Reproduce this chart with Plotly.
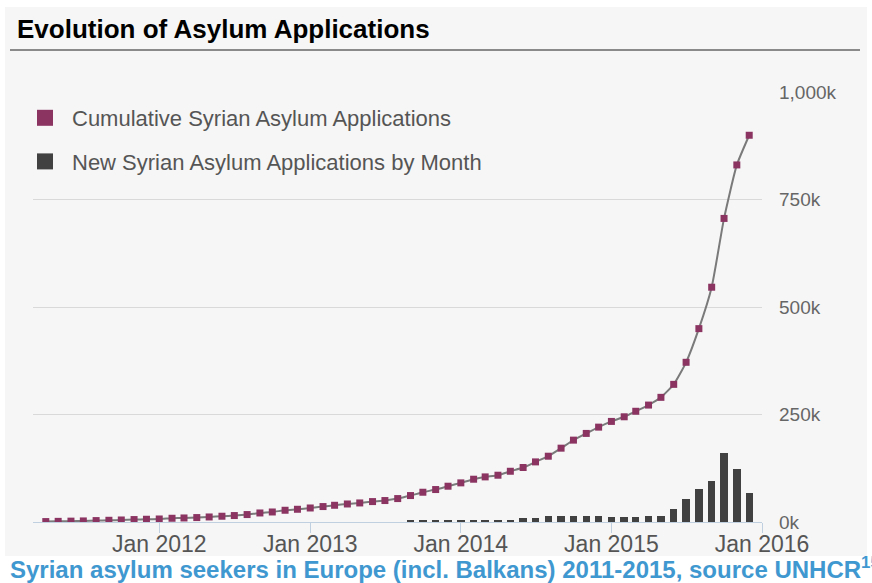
import plotly.graph_objects as go

# ---- data (thousands of applications) ----
cum_months = [
    "2011-04-01", "2011-05-01", "2011-06-01", "2011-07-01", "2011-08-01", "2011-09-01",
    "2011-10-01", "2011-11-01", "2011-12-01",
    "2012-01-01", "2012-02-01", "2012-03-01", "2012-04-01", "2012-05-01", "2012-06-01",
    "2012-07-01", "2012-08-01", "2012-09-01", "2012-10-01", "2012-11-01", "2012-12-01",
    "2013-01-01", "2013-02-01", "2013-03-01", "2013-04-01", "2013-05-01", "2013-06-01",
    "2013-07-01", "2013-08-01", "2013-09-01", "2013-10-01", "2013-11-01", "2013-12-01",
    "2014-01-01", "2014-02-01", "2014-03-01", "2014-04-01", "2014-05-01", "2014-06-01",
    "2014-07-01", "2014-08-01", "2014-09-01", "2014-10-01", "2014-11-01", "2014-12-01",
    "2015-01-01", "2015-02-01", "2015-03-01", "2015-04-01", "2015-05-01", "2015-06-01",
    "2015-07-01", "2015-08-01", "2015-09-01", "2015-10-01", "2015-11-01", "2015-12-01",
]
cumulative = [
    1.0, 1.5, 2.0, 2.5, 3.3, 4.0, 4.7, 5.7, 6.4,
    7.0, 8.7, 9.4, 10.3, 11.7, 13.4, 15.0, 17.3, 21.0, 23.3, 27.3, 29.6,
    32.6, 35.9, 38.9, 41.9, 44.3, 47.5, 49.9, 54.5, 61.5, 69.2, 75.5, 83.2,
    91.0, 99.5, 104.9, 108.8, 118.0, 126.7, 139.8, 153.0, 171.7, 190.4, 206.0, 220.6,
    233.9, 244.7, 257.5, 271.9, 289.9, 320.1, 371.4, 449.7, 546.0, 706.0, 830.4, 899.4,
]

new_months = [
    "2013-09-01", "2013-10-01", "2013-11-01", "2013-12-01",
    "2014-01-01", "2014-02-01", "2014-03-01", "2014-04-01", "2014-05-01", "2014-06-01",
    "2014-07-01", "2014-08-01", "2014-09-01", "2014-10-01", "2014-11-01", "2014-12-01",
    "2015-01-01", "2015-02-01", "2015-03-01", "2015-04-01", "2015-05-01", "2015-06-01",
    "2015-07-01", "2015-08-01", "2015-09-01", "2015-10-01", "2015-11-01", "2015-12-01",
]
new_by_month = [
    4, 4, 4, 4,
    4, 4, 4, 4, 4, 9, 9, 14, 14, 14, 14, 14.5,
    11, 11, 11, 15, 15, 30, 53, 76, 96, 161, 123, 68,
]

y_tick_vals = [0, 250, 500, 750, 1000]
y_tick_text = ["0k", "250k", "500k", "750k", "1,000k"]

title_text = "Evolution of Asylum Applications"
caption_text = "Syrian asylum seekers in Europe (incl. Balkans) 2011-2015, source UNHCR<sup>15</sup>"
name_cum = "Cumulative Syrian Asylum Applications"
name_new = "New Syrian Asylum Applications by Month"

PURPLE = "#8b3462"
DARK = "#414141"
BG = "#f6f6f6"
FONT = "Liberation Sans, Arial, sans-serif"

W, H = 872, 583
L, R, T, B = 33, 110, 92, 61
pw, ph = W - L - R, H - T - B


def px(xp):
    return (xp - L) / pw


def py(yp):
    return (H - B - yp) / ph


fig = go.Figure()

fig.add_trace(go.Bar(
    x=new_months, y=new_by_month, name=name_new,
    marker=dict(color=DARK, line=dict(width=0)),
    width=18 * 86400000, showlegend=False,
))
fig.add_trace(go.Scatter(
    x=cum_months, y=cumulative, name=name_cum, mode="lines+markers",
    line=dict(color="#7a7a7a", width=2, shape="spline", smoothing=0.5),
    marker=dict(symbol="square", size=7, color=PURPLE, line=dict(width=0)),
    showlegend=False,
))

# legend entries
fig.add_trace(go.Scatter(
    x=[None], y=[None], mode="markers", name=name_cum, legendgroup="a",
    marker=dict(symbol="square", size=16, color=PURPLE),
))
fig.add_trace(go.Scatter(
    x=[None], y=[None], mode="markers", name=name_new, legendgroup="b",
    marker=dict(symbol="square", size=16, color=DARK),
))

fig.update_layout(
    width=W, height=H, autosize=False,
    margin=dict(l=L, r=R, t=T, b=B, pad=0),
    paper_bgcolor="white", plot_bgcolor=BG,
    font=dict(family=FONT, color="#555555"),
    bargap=0,
    showlegend=True,
    legend=dict(
        x=px(18), y=py(97), xanchor="left", yanchor="top",
        bgcolor="rgba(0,0,0,0)", font=dict(size=22, color="#555555"),
        traceorder="grouped", tracegroupgap=12, itemwidth=44,
    ),
    xaxis=dict(
        type="date",
        range=["2011-03-01", "2016-01-01"],
        tick0="2012-01-01", dtick="M12", tickformat="%b %Y",
        ticks="outside", ticklen=10, tickcolor="#c0d0e0", tickwidth=1,
        ticklabelstandoff=-9,
        showline=True, linecolor="#c0d0e0", linewidth=1,
        showgrid=False, zeroline=False,
        tickfont=dict(size=23, color="#555555"),
    ),
    yaxis=dict(
        side="right", range=[0, 1000],
        tickvals=y_tick_vals, ticktext=y_tick_text,
        showgrid=True, gridcolor="#d9d9d9", gridwidth=1,
        zeroline=False, showline=False, ticks="",
        ticklabelstandoff=16,
        tickfont=dict(size=19, color="#666666"),
    ),
    shapes=[
        dict(type="rect", xref="paper", yref="paper",
             x0=px(5), x1=px(867), y0=py(556), y1=py(7),
             fillcolor=BG, line=dict(width=0), layer="below"),
        dict(type="line", xref="paper", yref="paper",
             x0=px(10), x1=px(860), y0=py(50), y1=py(50),
             line=dict(color="#8a8a8a", width=2)),
    ],
    annotations=[
        dict(text="<b>" + title_text + "</b>", xref="paper", yref="paper",
             x=px(15), y=py(29), xanchor="left", yanchor="middle", showarrow=False,
             font=dict(family=FONT, size=26, color="#000000")),
        dict(text="<b>" + caption_text + "</b>", xref="paper", yref="paper",
             x=px(8), y=py(568), xanchor="left", yanchor="middle", showarrow=False,
             font=dict(family=FONT, size=24, color="#3f98d0")),
    ],
)

fig.write_html("out.html")
